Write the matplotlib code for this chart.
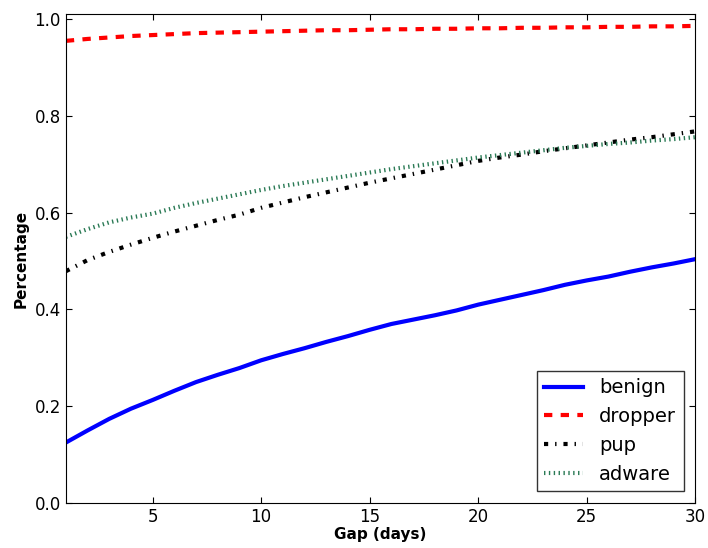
import matplotlib

matplotlib.use("Agg")
import matplotlib.pyplot as plt

# old-style (unscaled) dash patterns, like the original figure
plt.rcParams["lines.scale_dashes"] = False
plt.rcParams["lines.dashed_pattern"] = [6, 6]
plt.rcParams["lines.dashdot_pattern"] = [3, 5, 1, 5]
plt.rcParams["lines.dotted_pattern"] = [1, 2.5]

gap_days = list(range(1, 31))

benign = [0.125, 0.150, 0.174, 0.195, 0.213, 0.232, 0.250, 0.265, 0.279, 0.295,
          0.308, 0.320, 0.333, 0.345, 0.358, 0.370, 0.379, 0.388, 0.398, 0.410,
          0.420, 0.430, 0.440, 0.451, 0.460, 0.468, 0.478, 0.487, 0.495, 0.504]
dropper = [0.955, 0.959, 0.962, 0.965, 0.967, 0.969, 0.971, 0.972, 0.973, 0.974,
           0.975, 0.976, 0.977, 0.977, 0.978, 0.979, 0.979, 0.980, 0.980, 0.981,
           0.981, 0.982, 0.982, 0.983, 0.983, 0.984, 0.984, 0.985, 0.985, 0.986]
pup = [0.479, 0.502, 0.519, 0.534, 0.548, 0.561, 0.573, 0.585, 0.596, 0.610,
       0.621, 0.632, 0.642, 0.652, 0.662, 0.671, 0.680, 0.689, 0.698, 0.707,
       0.714, 0.720, 0.727, 0.733, 0.739, 0.745, 0.751, 0.756, 0.762, 0.768]
adware = [0.550, 0.566, 0.580, 0.590, 0.598, 0.610, 0.620, 0.629, 0.638, 0.647,
          0.655, 0.662, 0.669, 0.676, 0.683, 0.690, 0.696, 0.702, 0.708, 0.714,
          0.719, 0.724, 0.729, 0.734, 0.738, 0.742, 0.745, 0.749, 0.752, 0.756]

fig = plt.figure(figsize=(7.08, 5.48), dpi=100)
ax = fig.add_axes([0.093, 0.082, 0.889, 0.892])

ax.plot(gap_days, benign, "-", color="blue", lw=3, label="benign")
ax.plot(gap_days, dropper, "--", color="red", lw=3, label="dropper")
ax.plot(gap_days, pup, "-.", color="black", lw=3, label="pup")
ax.plot(gap_days, adware, ":", color="#2a7a55", lw=3, label="adware")

ax.set_xlim(1, 30)
ax.set_ylim(0, 1.01)
ax.set_xticks([5, 10, 15, 20, 25, 30])
ax.set_yticks([0.0, 0.2, 0.4, 0.6, 0.8, 1.0])
ax.tick_params(direction="in", top=True, right=True, labelsize=12, length=4)
ax.set_xlabel("Gap (days)", fontweight="bold", fontsize=11, labelpad=1)
ax.set_ylabel("Percentage", fontweight="bold", fontsize=11, labelpad=4)

leg = ax.legend(loc="lower right", fontsize=14, fancybox=False, edgecolor="black",
                handlelength=2, borderaxespad=0.6)
leg.get_frame().set_linewidth(1.0)

fig.savefig("out.png", dpi=100)
